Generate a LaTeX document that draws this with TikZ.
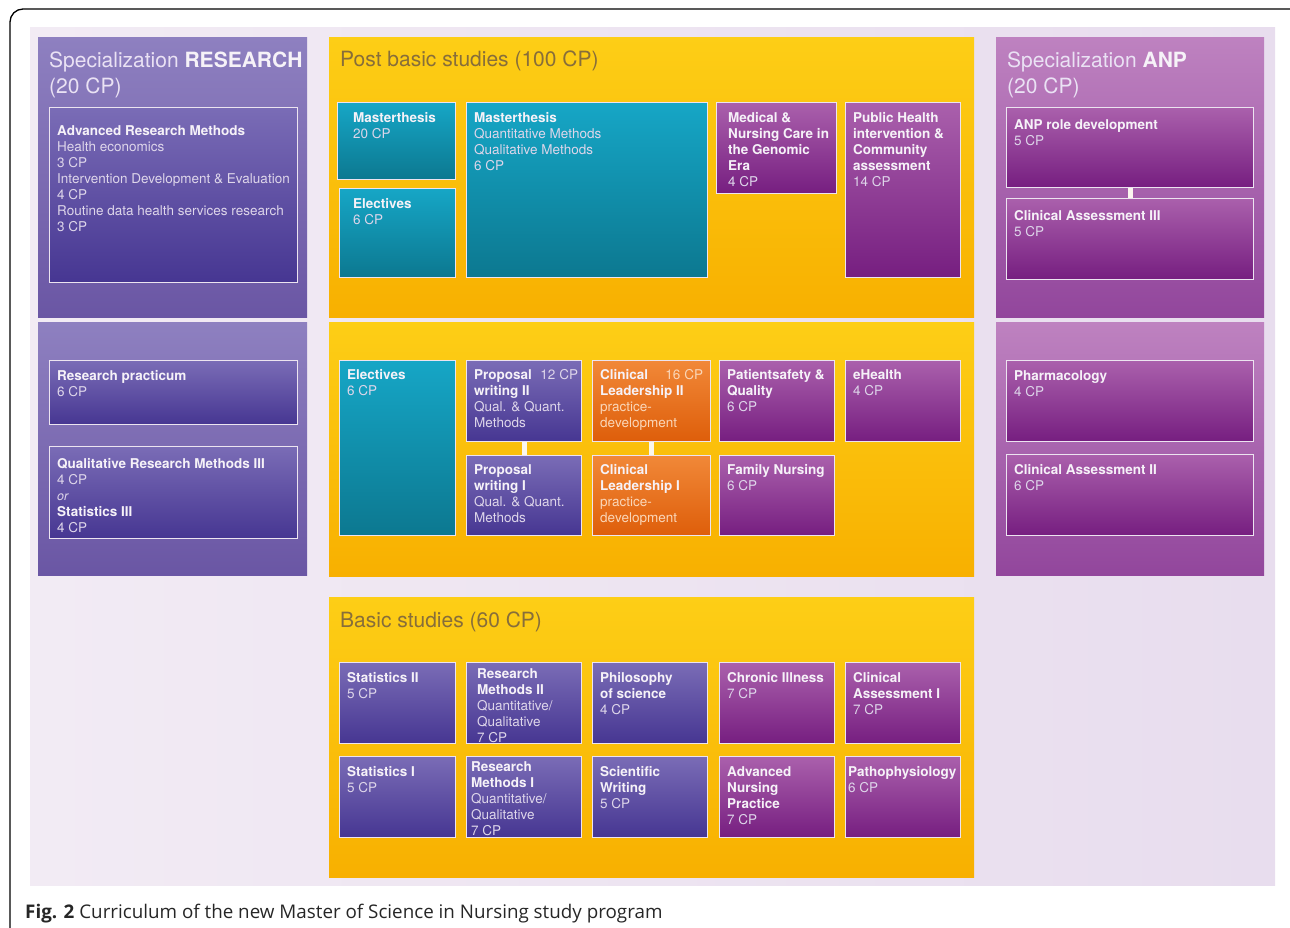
\documentclass[tikz,border=0pt]{standalone}
\usepackage{fontspec}
\setmainfont{TeX Gyre Heros}
\newfontfamily\capfont{Open Sans}
\usepackage{xcolor}

\definecolor{geltop}{RGB}{253,206,22}
\definecolor{gelbot}{RGB}{248,176,0}
\definecolor{gelbtitel}{RGB}{135,110,58}
\definecolor{lilatop}{RGB}{142,128,192}
\definecolor{lilabot}{RGB}{106,86,164}
\definecolor{pinktop}{RGB}{190,130,192}
\definecolor{pinkbot}{RGB}{146,70,156}
\definecolor{lilatitel}{RGB}{234,226,244}
\definecolor{blautop}{RGB}{122,108,182}
\definecolor{blaubot}{RGB}{70,54,146}
\definecolor{violtop}{RGB}{170,96,172}
\definecolor{violbot}{RGB}{118,30,128}
\definecolor{petroltop}{RGB}{22,166,198}
\definecolor{petrolbot}{RGB}{12,120,144}
\definecolor{ortop}{RGB}{241,136,56}
\definecolor{orbot}{RGB}{222,94,10}
\definecolor{rand}{RGB}{236,228,240}
\definecolor{cpfarbe}{RGB}{222,214,234}
\definecolor{orfarbe}{RGB}{250,214,184}
\definecolor{kursweiss}{RGB}{246,242,248}
\definecolor{bglinks}{RGB}{242,235,244}
\definecolor{bgrechts}{RGB}{232,221,238}
\definecolor{stegfarbe}{RGB}{250,246,238}

\newcommand{\kb}[1]{{\bfseries\color{kursweiss}#1}}

\begin{document}
\begin{tikzpicture}[x=1pt, y=-1pt, font=\fontsize{13.5}{16}\selectfont]
\tikzstyle{feld}=[anchor=north west, inner sep=0pt, draw=none]
\tikzstyle{gelbfeld}=[feld, top color=geltop, bottom color=gelbot]
\tikzstyle{lilafeld}=[feld, top color=lilatop, bottom color=lilabot]
\tikzstyle{pinkfeld}=[feld, top color=pinktop, bottom color=pinkbot]
\tikzstyle{modul}=[anchor=north west, inner sep=0pt, draw=rand, line width=1.2pt]
\tikzstyle{blaumod}=[modul, top color=blautop, bottom color=blaubot]
\tikzstyle{violmod}=[modul, top color=violtop, bottom color=violbot]
\tikzstyle{petrolmod}=[modul, top color=petroltop, bottom color=petrolbot]
\tikzstyle{ormod}=[modul, top color=ortop, bottom color=orbot]
\tikzstyle{txt}=[anchor=north west, align=left, inner xsep=8pt, inner ysep=10.5pt, text=cpfarbe]
\tikzstyle{titel}=[anchor=north west, align=left, inner xsep=11pt, inner ysep=15pt,
                   font=\fontsize{21}{26}\selectfont]
\tikzstyle{steg}=[draw=stegfarbe, line width=5pt]

\useasboundingbox (0,0) rectangle (1290,927);
\clip (0,0) rectangle (1290,927);

% Hintergrund und Rahmen
\fill[left color=bglinks, right color=bgrechts] (30,27) rectangle (1275,885);
\draw[line width=1.3pt, rounded corners=13pt] (10,960) |- (1320,9);

% Spezialisierung Forschung
\node[lilafeld, minimum width=269pt, minimum height=280pt,
      label={[titel, text=lilatitel]north west:{Specialization \kb{RESEARCH}\\(20 CP)}}] (resA) at (38,37) {};
\node[lilafeld, minimum width=269pt, minimum height=253pt] (resB) at (38,322) {};
\node[blaumod, minimum width=248pt, minimum height=175pt,
      label={[txt, inner ysep=18pt]north west:{\kb{Advanced Research Methods}\\Health economics\\3 CP\\
      Intervention Development \& Evaluation\\4 CP\\Routine data health services research\\3 CP}}] (arm) at (49,107) {};
\node[blaumod, minimum width=248pt, minimum height=64pt,
      label={[txt]north west:{\kb{Research practicum}\\6 CP}}] (rprak) at (49,360) {};
\node[blaumod, minimum width=248pt, minimum height=92pt,
      label={[txt, inner ysep=12pt]north west:{\kb{Qualitative Research Methods III}\\4 CP\\
      {\fontsize{12.5}{16}\selectfont\itshape or}\\\kb{Statistics III}\\4 CP}}] (qrm) at (49,446) {};

% Spezialisierung ANP
\node[pinkfeld, minimum width=268pt, minimum height=280pt,
      label={[titel, text=lilatitel]north west:{Specialization \kb{ANP}\\(20 CP)}}] (anpA) at (996,37) {};
\node[pinkfeld, minimum width=268pt, minimum height=253pt] (anpB) at (996,322) {};
\node[violmod, minimum width=247pt, minimum height=80pt,
      label={[txt, inner ysep=12pt]north west:{\kb{ANP role development}\\5 CP}}] (anprole) at (1006,107) {};
\node[violmod, minimum width=247pt, minimum height=81pt,
      label={[txt, inner ysep=12pt]north west:{\kb{Clinical Assessment III}\\5 CP}}] (ca3) at (1006,198) {};
\node[violmod, minimum width=247pt, minimum height=81pt,
      label={[txt]north west:{\kb{Pharmacology}\\4 CP}}] (pharm) at (1006,360) {};
\node[violmod, minimum width=247pt, minimum height=81pt,
      label={[txt]north west:{\kb{Clinical Assessment II}\\6 CP}}] (ca2) at (1006,454) {};

% Aufbaustudium
\node[gelbfeld, minimum width=645pt, minimum height=280pt,
      label={[titel, text=gelbtitel, inner ysep=14pt]north west:Post basic studies (100 CP)}] (post) at (329,37) {};
\node[gelbfeld, minimum width=645pt, minimum height=254pt] (mitte) at (329,322) {};
\node[petrolmod, minimum width=118pt, minimum height=77pt,
      label={[txt, inner xsep=16pt]north west:{\kb{Masterthesis}\\20 CP}}] (mt20) at (337,102) {};
\node[petrolmod, minimum width=116pt, minimum height=89pt,
      label={[txt, inner xsep=14pt]north west:{\kb{Electives}\\6 CP}}] (elA) at (339,188) {};
\node[petrolmod, minimum width=241pt, minimum height=175pt,
      label={[txt]north west:{\kb{Masterthesis}\\Quantitative Methods\\Qualitative Methods\\6 CP}}] (mtq) at (466,102) {};
\node[violmod, minimum width=120pt, minimum height=91pt,
      label={[txt, inner xsep=12pt]north west:{\kb{Medical \&}\\\kb{Nursing Care in}\\\kb{the Genomic}\\\kb{Era}\\4 CP}}] (med) at (716,102) {};
\node[violmod, minimum width=115pt, minimum height=175pt,
      label={[txt]north west:{\kb{Public Health}\\\kb{intervention \&}\\\kb{Community}\\\kb{assessment}\\14 CP}}] (pubh) at (845,102) {};

\node[petrolmod, minimum width=116pt, minimum height=175pt,
      label={[txt, inner ysep=9pt]north west:{\kb{Electives}\\6 CP}}] (elB) at (339,360) {};
\node[blaumod, minimum width=115pt, minimum height=81pt,
      label={[txt, inner ysep=9pt]north west:{\kb{Proposal}\\\kb{writing II}\\Qual. \& Quant.\\Methods}},
      label={[txt, anchor=north east, inner xsep=4pt, inner ysep=9pt]north east:12 CP}] (pw2) at (466,360) {};
\node[blaumod, minimum width=115pt, minimum height=80pt,
      label={[txt, inner ysep=9pt]north west:{\kb{Proposal}\\\kb{writing I}\\Qual. \& Quant.\\Methods}}] (pw1) at (466,455) {};
\node[ormod, minimum width=118pt, minimum height=81pt,
      label={[txt, text=orfarbe, inner ysep=9pt]north west:{\kb{Clinical}\\\kb{Leadership II}\\practice-\\development}},
      label={[txt, text=orfarbe, anchor=north east, inner ysep=9pt]north east:16 CP}] (cl2) at (592,360) {};
\node[ormod, minimum width=118pt, minimum height=80pt,
      label={[txt, text=orfarbe, inner ysep=9pt]north west:{\kb{Clinical}\\\kb{Leadership I}\\practice-\\development}}] (cl1) at (592,455) {};
\node[violmod, minimum width=115pt, minimum height=81pt,
      label={[txt, inner ysep=9pt]north west:{\kb{Patientsafety \&}\\\kb{Quality}\\6 CP}}] (pat) at (719,360) {};
\node[violmod, minimum width=115pt, minimum height=80pt,
      label={[txt, inner ysep=9pt]north west:{\kb{Family Nursing}\\6 CP}}] (fam) at (719,455) {};
\node[violmod, minimum width=115pt, minimum height=81pt,
      label={[txt, inner ysep=9pt]north west:{\kb{eHealth}\\4 CP}}] (ehe) at (845,360) {};

% Grundstudium
\node[gelbfeld, minimum width=645pt, minimum height=280pt,
      label={[titel, text=gelbtitel]north west:Basic studies (60 CP)}] (basis) at (329,597) {};
\node[blaumod, minimum width=116pt, minimum height=81pt,
      label={[txt]north west:{\kb{Statistics II}\\5 CP}}] (st2) at (339,662) {};
\node[blaumod, minimum width=115pt, minimum height=81pt,
      label={[txt, inner xsep=11pt, inner ysep=6pt]north west:{\kb{Research}\\\kb{Methods II}\\Quantitative/\\Qualitative\\7 CP}}] (rm2) at (466,662) {};
\node[blaumod, minimum width=115pt, minimum height=81pt,
      label={[txt]north west:{\kb{Philosophy}\\\kb{of science}\\4 CP}}] (phil) at (592,662) {};
\node[violmod, minimum width=115pt, minimum height=81pt,
      label={[txt]north west:{\kb{Chronic Illness}\\7 CP}}] (chr) at (719,662) {};
\node[violmod, minimum width=115pt, minimum height=81pt,
      label={[txt]north west:{\kb{Clinical}\\\kb{Assessment I}\\7 CP}}] (ca1) at (845,662) {};
\node[blaumod, minimum width=116pt, minimum height=81pt,
      label={[txt]north west:{\kb{Statistics I}\\5 CP}}] (st1) at (339,756) {};
\node[blaumod, minimum width=115pt, minimum height=81pt,
      label={[txt, inner xsep=5pt, inner ysep=5pt]north west:{\kb{Research}\\\kb{Methods I}\\Quantitative/\\Qualitative\\7 CP}}] (rm1) at (466,756) {};
\node[blaumod, minimum width=115pt, minimum height=81pt,
      label={[txt]north west:{\kb{Scientific}\\\kb{Writing}\\5 CP}}] (sw) at (592,756) {};
\node[violmod, minimum width=115pt, minimum height=81pt,
      label={[txt]north west:{\kb{Advanced}\\\kb{Nursing}\\\kb{Practice}\\7 CP}}] (anp) at (719,756) {};
\node[violmod, minimum width=115pt, minimum height=81pt,
      label={[txt, inner xsep=3pt]north west:{\kb{Pathophysiology}\\6 CP}}] (patho) at (845,756) {};

% Verbindungen
\draw[steg] (anprole.south) -- (ca3.north);
\draw[steg] (pw2.south) -- (pw1.north);
\draw[steg] (cl2.south) -- (cl1.north);

% Bildunterschrift
\node[anchor=base west, inner sep=0pt, text=black!85, font=\capfont\fontsize{18.8}{20}\selectfont] (cap) at (25,918)
     {\textbf{Fig. 2} Curriculum of the new Master of Science in Nursing study program};
\end{tikzpicture}
\end{document}
